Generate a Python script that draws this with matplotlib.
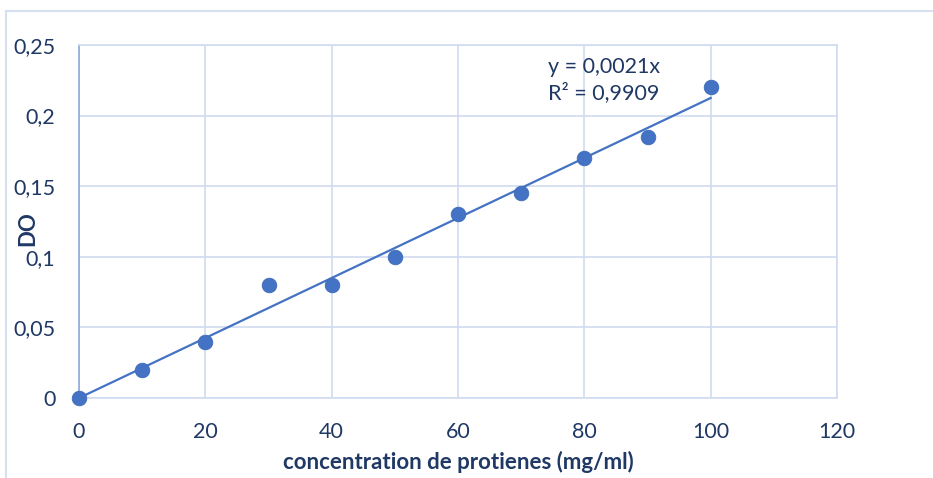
import numpy as np
import matplotlib
matplotlib.use("Agg")
import matplotlib.pyplot as plt
from matplotlib.lines import Line2D
from matplotlib.ticker import FuncFormatter

concentration = [0, 10, 20, 30, 40, 50, 60, 70, 80, 90, 100]
do_values = [0.0, 0.02, 0.04, 0.08, 0.08, 0.10, 0.13, 0.145, 0.17, 0.185, 0.22]
x_ticks = [0, 20, 40, 60, 80, 100, 120]
y_ticks = [0, 0.05, 0.1, 0.15, 0.2, 0.25]
equation_text = "y = 0,0021x\nR² = 0,9909"

plt.rcParams['font.family'] = ['Lato', 'DejaVu Sans']
text_color = '#1F3864'
grid_color = '#D0DCF0'
blue = '#4472C4'

fig = plt.figure(figsize=(9.33, 4.78), dpi=100)
ax = fig.add_axes([0.0847, 0.1674, 0.8124, 0.7385])

x = np.array(concentration, dtype=float)
y = np.array(do_values, dtype=float)
slope = np.sum(x * y) / np.sum(x * x)
xl = np.array([0, 100])
ax.plot(xl, slope * xl, color=blue, lw=1.6, zorder=3)
ax.plot(x, y, 'o', color=blue, ms=10.5, zorder=4, markeredgecolor='#3F6BB8',
        markeredgewidth=0.6, clip_on=False)

ax.set_xlim(0, 120)
ax.set_ylim(0, 0.25)
ax.set_xticks(x_ticks)
ax.set_yticks(y_ticks)

def fmt(v, pos):
    return ('%g' % round(v, 4)).replace('.', ',')
ax.xaxis.set_major_formatter(FuncFormatter(fmt))
ax.yaxis.set_major_formatter(FuncFormatter(fmt))

ax.grid(True, color=grid_color, lw=1.2)
ax.set_axisbelow(True)
for s in ['top', 'right', 'bottom']:
    ax.spines[s].set_color(grid_color)
    ax.spines[s].set_linewidth(1.2)
ax.spines['left'].set_color('#8EA9DB')
ax.spines['left'].set_linewidth(1.2)
ax.tick_params(length=0, labelsize=15.5, labelcolor=text_color)
ax.tick_params(axis='y', pad=17)
ax.tick_params(axis='x', pad=17)

ax.set_xlabel('concentration de protienes (mg/ml)', fontsize=16, fontweight='bold', color=text_color)
ax.xaxis.set_label_coords(0.5, -0.15)
ax.set_ylabel('DO', fontsize=16, fontweight='bold', color=text_color)
ax.yaxis.set_label_coords(-0.054, 0.479)

ax.text(74.2, 0.2252, equation_text, fontsize=15.5, color=text_color, va='center', ha='left', linespacing=1.35)

border = '#D6E0F0'
fig.add_artist(Line2D([6/933, 6/933], [0, 1 - 11/478], transform=fig.transFigure, color=border, lw=1.5))
fig.add_artist(Line2D([6/933, 1], [1 - 11/478, 1 - 11/478], transform=fig.transFigure, color=border, lw=1.5))

fig.savefig('out.png', dpi=100)
